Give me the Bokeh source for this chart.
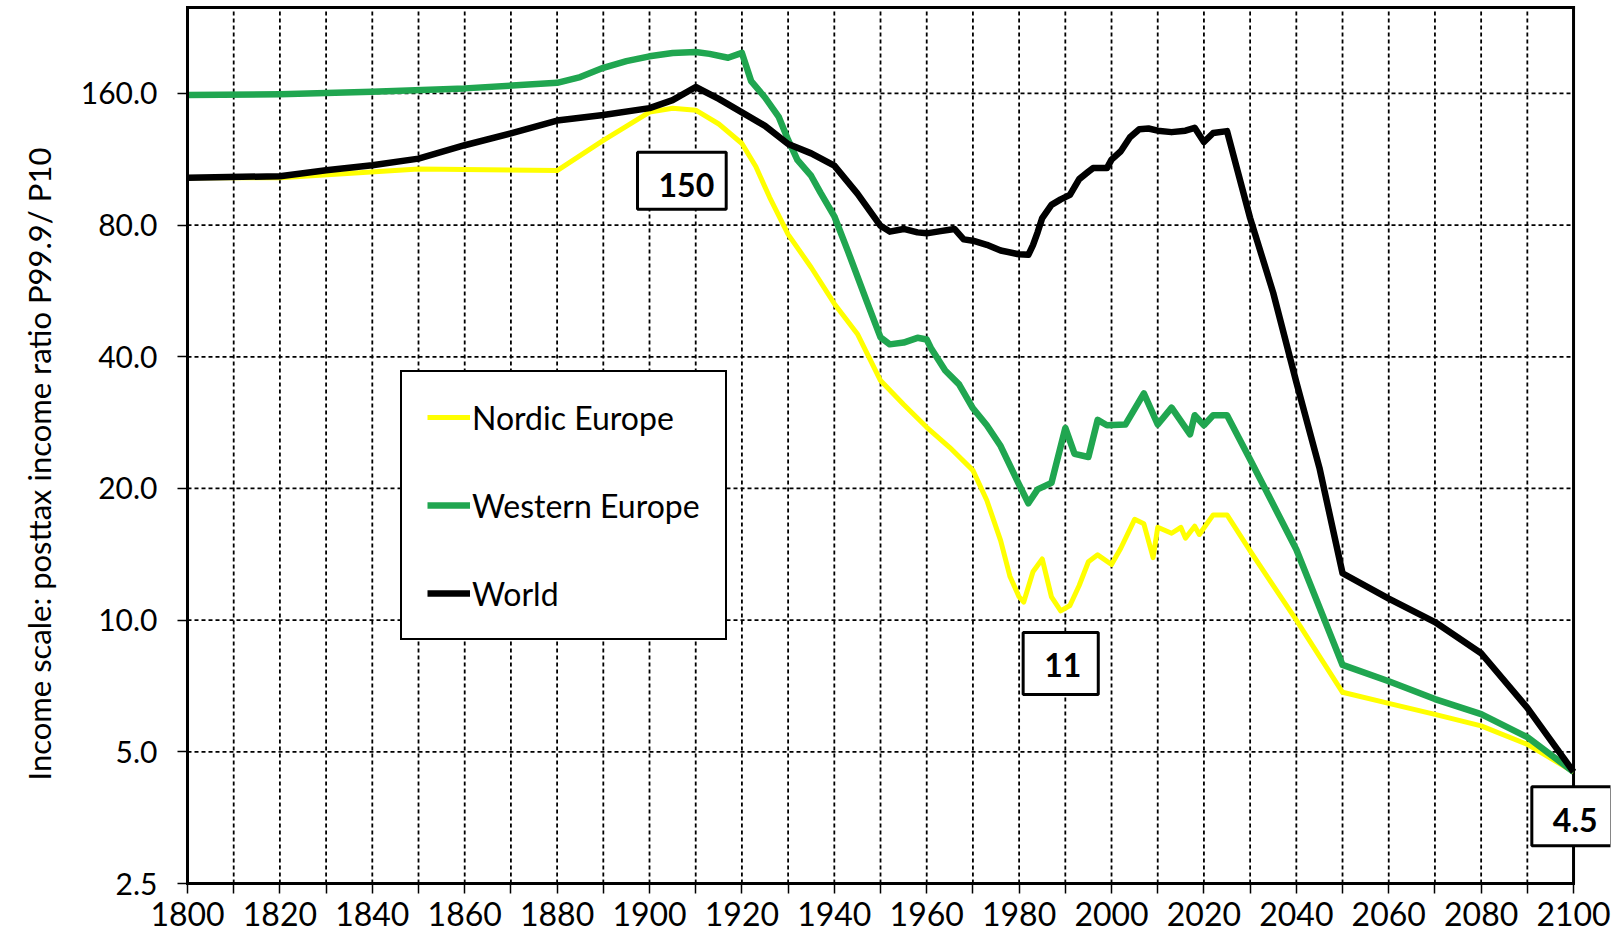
from bokeh.plotting import figure
from bokeh.models import (FixedTicker, CustomJSTickFormatter, PrintfTickFormatter,
                          Legend, LegendItem, Label, Range1d, Title)
from bokeh.embed import file_html
from bokeh.resources import INLINE

# ---------------- data ----------------
world_years = [1800, 1820, 1830, 1840, 1850, 1860, 1870, 1880, 1890, 1900, 1905, 1910,
               1915, 1920, 1925, 1930, 1935, 1940, 1945, 1950, 1952, 1955, 1958, 1960,
               1963, 1966, 1968, 1970, 1973, 1976, 1980, 1982, 1983, 1984, 1985, 1987,
               1989, 1991, 1993, 1995, 1996, 1999, 2000, 2002, 2004, 2006, 2008, 2010,
               2013, 2016, 2018, 2020, 2022, 2025, 2030, 2035, 2040, 2045, 2050, 2060,
               2070, 2080, 2090, 2100]
world_vals = [102.6, 103.5, 106.8, 109.6, 113.5, 121.8, 129.7, 138.7, 142.8, 148.1, 154.4, 165.5,
              155.5, 144.8, 134.9, 122.6, 116.7, 109.4, 94.4, 79.7, 77.3, 78.4, 77.0, 76.6,
              77.5, 78.4, 74.2, 73.7, 72.1, 70.0, 68.6, 68.4, 72.0, 77.0, 83.0, 89.0,
              91.6, 93.8, 101.9, 106.0, 108.0, 108.0, 112.9, 118.0, 127.0, 132.5, 133.0, 131.5,
              130.5, 131.5, 133.5, 123.9, 129.9, 131.2, 83.0, 56.0, 35.0, 22.3, 12.8, 11.2,
              9.9, 8.4, 6.3, 4.5]

west_years = [1800, 1820, 1840, 1860, 1880, 1885, 1890, 1895, 1900, 1905, 1910, 1913, 1917,
              1920, 1922, 1925, 1928, 1930, 1932, 1935, 1937, 1940, 1943, 1947, 1950, 1952,
              1955, 1958, 1960, 1961, 1964, 1967, 1970, 1973, 1976, 1980, 1982, 1984, 1987,
              1990, 1992, 1995, 1997, 1999, 2003, 2007, 2010, 2013, 2017, 2018, 2020, 2022,
              2025, 2030, 2040, 2050, 2060, 2070, 2080, 2090, 2100]
west_vals = [158.6, 159.2, 161.4, 164.3, 169.2, 174.4, 183.1, 189.6, 194.5, 198.0, 199.0, 197.0, 193.0,
             198.0, 170.7, 156.6, 141.2, 125.3, 112.8, 103.6, 94.9, 83.8, 69.5, 53.6, 44.3, 42.7,
             43.1, 44.2, 43.8, 41.7, 37.2, 34.6, 30.5, 27.9, 25.0, 20.4, 18.5, 19.9, 20.6,
             27.5, 24.0, 23.6, 28.7, 27.9, 28.0, 33.0, 28.0, 30.6, 26.6, 29.4, 27.9, 29.4,
             29.4, 23.3, 14.5, 7.9, 7.25, 6.6, 6.1, 5.4, 4.5]

nordic_years = [1800, 1820, 1850, 1880, 1890, 1900, 1905, 1910, 1915, 1920, 1923, 1926, 1930,
                1935, 1940, 1945, 1950, 1955, 1960, 1965, 1970, 1973, 1976, 1978, 1980, 1981,
                1983, 1985, 1987, 1989, 1991, 1993, 1995, 1997, 2000, 2002, 2005, 2007, 2009,
                2010, 2013, 2015, 2016, 2018, 2019, 2022, 2025, 2030, 2040, 2050, 2060, 2070,
                2080, 2090, 2100]
nordic_vals = [102.6, 102.6, 107.5, 106.6, 125.0, 145.0, 148.0, 146.5, 136.2, 122.9, 108.9, 92.6, 76.2,
               64.0, 52.9, 45.1, 35.3, 31.1, 27.6, 24.8, 22.0, 18.8, 15.2, 12.6, 11.3, 11.0,
               12.9, 13.8, 11.3, 10.5, 10.8, 12.0, 13.6, 14.1, 13.4, 14.6, 17.0, 16.6, 13.9,
               16.3, 15.8, 16.3, 15.4, 16.4, 15.7, 17.4, 17.4, 14.4, 10.0, 6.84, 6.45, 6.09,
               5.73, 5.2, 4.5]

series_names = ["Nordic Europe", "Western Europe", "World"]
y_ticks = [2.5, 5, 10, 20, 40, 80, 160]
x_ticks = list(range(1800, 2101, 10))
callouts = [("150", 1907, 101.0, (21, 12, 21, 12)),
            ("11", 1989, 7.96, (21, 17, 21, 17)),
            ("4.5", 2099.6, 3.56, (21, 14, 21, 14))]

FONT = "Lato"
X0, X1 = 1800, 2100          # plotted period
Y0, YTOP = 2.5, 251.5        # bottom / top of the framed area

p = figure(width=1614, height=940,
           x_range=Range1d(X0, 2108.0), y_range=Range1d(Y0, 255.5),
           y_axis_type="log", output_backend="svg", toolbar_location=None,
           min_border_left=187, min_border_right=4, min_border_top=4, min_border_bottom=57,
           background_fill_color="white", border_fill_color="white")

p.outline_line_color = None
p.xgrid.visible = False
p.ygrid.visible = False

xt = FixedTicker(ticks=x_ticks)
yt = FixedTicker(ticks=y_ticks)
p.xaxis.ticker = xt
p.yaxis.ticker = yt
p.xaxis.bounds = (X0, X1)
p.yaxis.bounds = (Y0, YTOP)
p.xaxis.formatter = CustomJSTickFormatter(code="return (Math.round(tick) % 20 == 0) ? tick.toFixed(0) : '';")
p.yaxis.formatter = PrintfTickFormatter(format="%.1f")

for ax in (p.xaxis, p.yaxis):
    ax.axis_line_color = "black"
    ax.axis_line_width = 3
    ax.axis_line_cap = "square"
    ax.major_tick_line_color = "black"
    ax.major_tick_line_width = 1.5
    ax.major_tick_out = 10
    ax.major_tick_in = 0
    ax.minor_tick_line_color = None
    ax.major_label_text_font = FONT
    ax.major_label_text_color = "black"

p.xaxis.major_label_text_font_size = "32px"
p.yaxis.major_label_text_font_size = "30px"
p.xaxis.major_label_standoff = 8
p.yaxis.major_label_standoff = 20

# y axis title as a left-side Title so it can be positioned along the axis
ttl = Title(text="Income scale: posttax income ratio P99.9/ P10", align="left",
            vertical_align="top", offset=103,
            text_font=FONT, text_font_size="31px", text_font_style="normal", text_color="black")
try:
    ttl.standoff = 35
except Exception:
    pass
p.add_layout(ttl, "left")

# dashed grid, limited to the framed period
grid_style = dict(line_color="black", line_dash="4 3", line_width=1.8)
hy = y_ticks[1:]
p.segment(x0=[X0] * len(hy), y0=hy, x1=[X1] * len(hy), y1=hy, **grid_style)
vx = x_ticks[1:-1]
p.segment(x0=vx, y0=[Y0] * len(vx), x1=vx, y1=[YTOP] * len(vx), **grid_style)

# frame: top and right edges
p.segment(x0=[X0, X1], y0=[YTOP, Y0], x1=[X1, X1], y1=[YTOP, YTOP],
          line_color="black", line_width=3, line_cap="square")

r_nordic = p.line(nordic_years, nordic_vals, line_color="#FFFF00", line_width=5, line_join="round")
r_west = p.line(west_years, west_vals, line_color="#20A650", line_width=6.5, line_join="round")
r_world = p.line(world_years, world_vals, line_color="black", line_width=6.5, line_join="round")

legend = Legend(items=[LegendItem(label=series_names[0], renderers=[r_nordic]),
                       LegendItem(label=series_names[1], renderers=[r_west]),
                       LegendItem(label=series_names[2], renderers=[r_world])],
                location=(213, 243),
                glyph_width=43, glyph_height=40, label_height=40,
                label_standoff=2, spacing=48, padding=25,
                label_text_font=FONT, label_text_font_size="32px", label_text_color="black",
                border_line_color="black", border_line_width=2, border_line_alpha=1.0,
                background_fill_color="white", background_fill_alpha=1.0)
p.add_layout(legend, "center")

for txt, xx, yy, pad in callouts:
    p.add_layout(Label(x=xx, y=yy, text=txt, text_align="center", text_baseline="middle",
                       text_font=FONT, text_font_size="32px", text_font_style="bold",
                       text_color="black", padding=pad,
                       border_line_color="black", border_line_width=3,
                       background_fill_color="white", background_fill_alpha=1.0))

open("out.html", "w").write(file_html(p, INLINE))
